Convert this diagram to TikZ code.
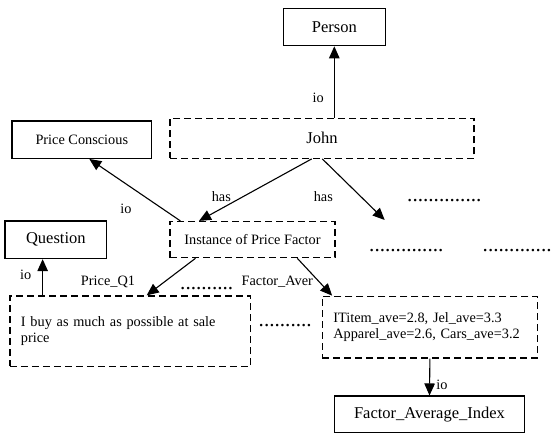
\documentclass[tikz,border=0pt]{standalone}
\usepackage{fontspec}
\setmainfont{Liberation Serif}
\usetikzlibrary{arrows.meta}
\newcommand{\bigtxt}{\fontsize{16.5}{19}\selectfont}
\newcommand{\smalltxt}{\fontsize{14.3}{16.6}\selectfont}
\newcommand{\dottxt}{\fontsize{21.2}{22}\selectfont}
\begin{document}
\begin{tikzpicture}[x=1pt,y=-1pt,
	solidbox/.style={draw,line width=1.2pt,inner sep=0pt},
	dashbox/.style={draw,line width=1.2pt,dash pattern=on 7pt off 4pt,inner sep=0pt},
	arr/.style={-{Triangle[length=12pt,width=10.5pt]},line width=1.1pt},
	lbl/.style={inner sep=0pt,font=\smalltxt},
	dotrow/.style={inner sep=0pt,anchor=west,font=\dottxt}]
	\useasboundingbox (0,0) rectangle (552,433);
	% boxes
	\node[solidbox,minimum width=102pt,minimum height=37.4pt,font=\bigtxt] (person) at (334.3,27) {Person};
	\node[dashbox,minimum width=304pt,minimum height=40pt,font=\bigtxt] (john) at (322,138.3) {John};
	\node[solidbox,minimum width=139.7pt,minimum height=37.3pt,font=\smalltxt] (pricecons) at (81.8,139.7) {Price Conscious};
	\node[dashbox,minimum width=165pt,minimum height=36.2pt,font=\smalltxt] (instance) at (252.5,239.6) {Instance of Price Factor};
	\node[solidbox,minimum width=101.7pt,minimum height=37.5pt,font=\bigtxt] (question) at (55.8,239.8) {Question};
	\node[dashbox,minimum width=240.7pt,minimum height=70.5pt,text width=218.7pt,inner xsep=11pt,align=left,font=\smalltxt] (qtext) at (130.3,331.2) {I buy as much as possible at sale\\price};
	\node[dashbox,minimum width=215.2pt,minimum height=61.7pt,text width=193.2pt,inner xsep=11pt,align=left,font=\smalltxt] (itemavg) at (429.9,327.1) {ITitem\_ave=2.8, Jel\_ave=3.3\\Apparel\_ave=2.6, Cars\_ave=3.2};
	\node[solidbox,minimum width=190pt,minimum height=36.3pt,font=\bigtxt] (fai) at (429.5,414.2) {Factor\_Average\_Index};
	\coordinate (hasend) at (384.7,220);
	\coordinate (qup) at ([xshift=33.3pt]qtext.north west);
	% arrows
	\draw[arr] (john.north -| person.south) -- (person.south);
	\draw[arr] ([xshift=-10.3pt]john.south) -- ([xshift=-53.5pt]instance.north);
	\draw[arr] ([xshift=0.3pt]john.south) -- (hasend);
	\draw[arr] ([xshift=11pt]instance.north west) -- ([xshift=7.5pt]pricecons.south);
	\draw[arr] ([xshift=-57pt]instance.south) -- ([xshift=16.4pt]qtext.north);
	\draw[arr] ([xshift=44.8pt]instance.south) -- ([xshift=10.4pt]itemavg.north west);
	\draw[arr] (qup) -- (qup |- question.south);
	\draw[arr] (itemavg.south) -- (fai.north);
	% labels
	\node[lbl] (io1) at (318.3,98.3) {io};
	\node[lbl] (has1) at (221.3,196.7) {has};
	\node[lbl] (has2) at (323.3,196.7) {has};
	\node[lbl] (io2) at (126,209) {io};
	\node[lbl] (io3) at (25.7,275) {io};
	\node[lbl] (pq1) at (108,282) {Price\_Q1};
	\node[lbl] (faver) at (277.3,282) {Factor\_Aver};
	\node[lbl] (io4) at (442,385) {io};
	% dots
	\node[dotrow] (dots1) at (407,200.7) {..............};
	\node[dotrow] (dots2) at (369,251) {..............};
	\node[dotrow] (dots3) at (482.5,251) {.............};
	\node[dotrow] (dots4) at (180,288.3) {..........};
	\node[dotrow] (dots5) at (258.5,325.5) {..........};
\end{tikzpicture}
\end{document}
